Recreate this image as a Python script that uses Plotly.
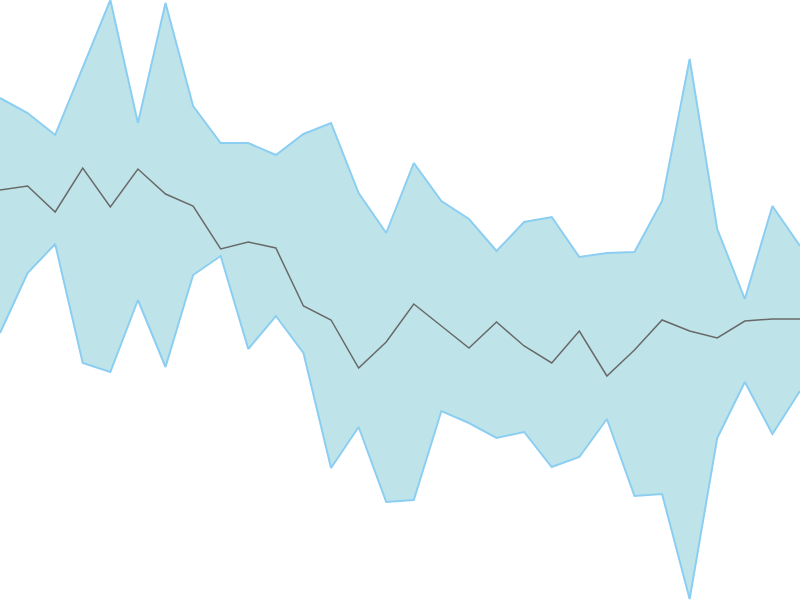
import plotly.graph_objects as go

# period index and the three series
periods = list(range(30))
upper = [502, 487, 465, 532, 600, 477, 597, 494, 457, 457, 445, 466, 477, 407, 367,
         437, 399, 381, 349, 378, 383, 343, 347, 348, 399, 541, 371, 301, 394, 354]
middle = [410, 414, 388, 432, 393, 431, 406, 394, 351, 358, 352, 294, 280, 232, 258,
          296, 274, 252, 278, 254, 237, 269, 224, 250, 280, 269, 262, 279, 281, 281]
lower = [267, 327, 356, 237, 228, 300, 233, 325, 344, 251, 284, 247, 132, 173, 98,
         100, 189, 177, 162, 168, 133, 143, 181, 104, 106, 1, 162, 218, 166, 209]

band_line = 'rgb(140,206,242)'
band_fill = 'rgb(190,228,233)'

fig = go.Figure()
fig.add_trace(go.Scatter(
    x=periods
    , y=lower
    , mode='lines'
    , line=dict(color=band_line, width=2)
    , hoverinfo='skip'
    , showlegend=False
))
fig.add_trace(go.Scatter(
    x=periods
    , y=upper
    , mode='lines'
    , fill='tonexty'
    , fillcolor=band_fill
    , line=dict(color=band_line, width=2)
    , hoverinfo='skip'
    , showlegend=False
))
fig.add_trace(go.Scatter(
    x=periods
    , y=middle
    , mode='lines'
    , line=dict(color='rgb(105,105,105)', width=1.5)
    , hoverinfo='skip'
    , showlegend=False
))

fig.update_layout(
    width=800
    , height=600
    , margin=dict(l=0, r=0, t=0, b=0)
    , paper_bgcolor='white'
    , plot_bgcolor='white'
    , hovermode=False
    , xaxis=dict(range=[0, 29], visible=False)
    , yaxis=dict(range=[0, 600], visible=False)
)

# page body has a default 8px margin, drop it so the chart sits flush
fig.write_html("out.html"
               , config={'displayModeBar': False, 'staticPlot': True}
               , post_script="document.body.style.margin='0';")
